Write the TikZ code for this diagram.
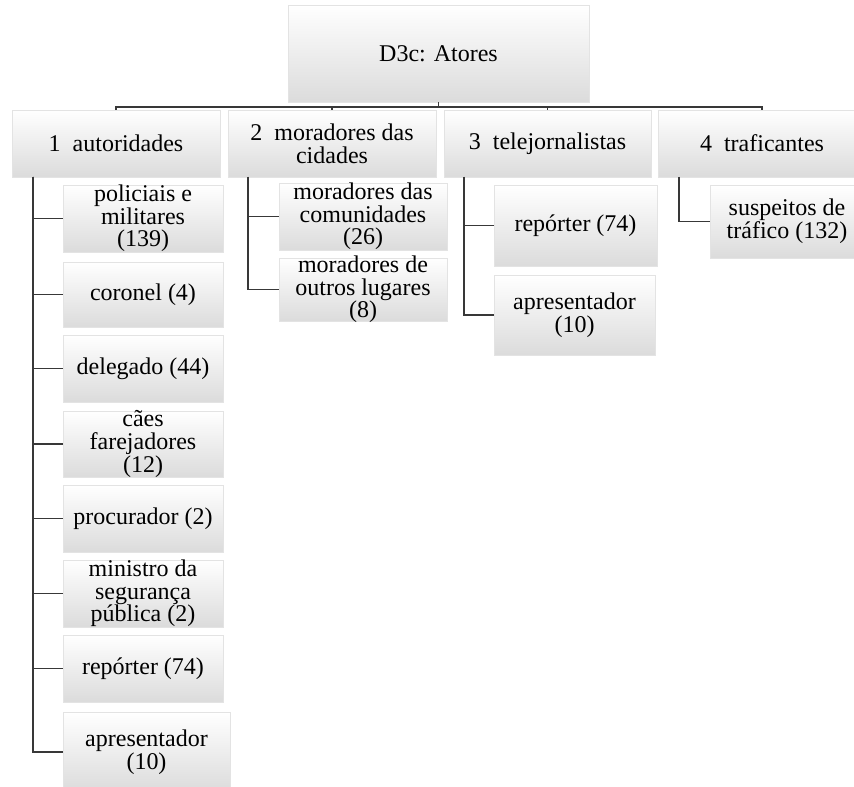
\documentclass[tikz,border=0pt]{standalone}
\usepackage{fontspec}
\newfontfamily\boxfont{Liberation Serif}
\begin{document}
\begin{tikzpicture}[x=0.75pt,y=-0.75pt,
  box/.style={inner sep=0pt, draw=gray!22, line width=0.6pt,
    top color=white, bottom color=gray!28},
  lbl/.style={align=center, inner sep=0pt, text=black,
    font=\boxfont\fontsize{18}{17}\selectfont},
  link/.style={draw=black!78, line width=1.3pt}]
\useasboundingbox (0,0) rectangle (854,787);

% box with fixed size and centred label: style, name, left, top, right, bottom, text
\newcommand\tbox[7]{%
  \node[#1, minimum width={(#5-#3)*0.75pt}, minimum height={(#6-#4)*0.75pt}]
    (#2) at ({(#3+#5)/2},{(#4+#6)/2}) {};
  \node[lbl] (#2-t) at (#2.center) {#7};
}

% root
\tbox{box}{root}{288}{5}{589}{102}{D3c: Atores}

% first level
\tbox{box}{b1}{12}{110}{220}{177}{1 \ autoridades}
\tbox{box}{b2}{228}{110}{436}{177}{2 \ moradores das\\cidades}
\tbox{box}{b3}{444}{110}{651}{177}{3 \ telejornalistas}
\tbox{box}{b4}{658}{110}{866}{177}{4 \ traficantes}

% children of 1
\tbox{box}{c11}{63}{185}{223}{252}{policiais e\\militares\\(139)}
\tbox{box}{c12}{63}{262}{223}{327}{coronel (4)}
\tbox{box}{c13}{63}{335}{223}{402}{delegado (44)}
\tbox{box}{c14}{63}{411}{223}{477}{cães\\farejadores\\(12)}
\tbox{box}{c15}{63}{485}{223}{552}{procurador (2)}
\tbox{box}{c16}{63}{560}{223}{627}{ministro da\\segurança\\pública (2)}
\tbox{box}{c17}{63}{635}{223}{702}{repórter (74)}
\tbox{box}{c18}{63}{712}{230}{792}{apresentador\\(10)}

% children of 2
\tbox{box}{c21}{279}{183}{447}{250}{moradores das\\comunidades\\(26)}
\tbox{box}{c22}{279}{258}{447}{321}{moradores de\\outros lugares\\(8)}

% children of 3
\tbox{box}{c31}{494}{185}{657}{266}{repórter (74)}
\tbox{box}{c32}{494}{275}{655}{355}{apresentador\\(10)}

% child of 4
\tbox{box}{c41}{710}{185}{864}{258}{suspeitos de\\tráfico (132)}

% bus from the root to the first level
\coordinate (bus) at (438.5,107);
\draw[link] (root.south) -- (bus);
\foreach \b in {b1,b2,b3,b4} \draw[link] (bus) -| (\b.north);

% spines
\coordinate (s1) at (33,177);
\coordinate (s2) at (248,177);
\coordinate (s3) at (464,177);
\coordinate (s4) at (679,177);
\foreach \c in {c11,c12,c13,c14,c15,c16,c17,c18} \draw[link] (s1) |- (\c.west);
\foreach \c in {c21,c22} \draw[link] (s2) |- (\c.west);
\foreach \c in {c31,c32} \draw[link] (s3) |- (\c.west);
\draw[link] (s4) |- (c41.west);
\end{tikzpicture}
\end{document}
